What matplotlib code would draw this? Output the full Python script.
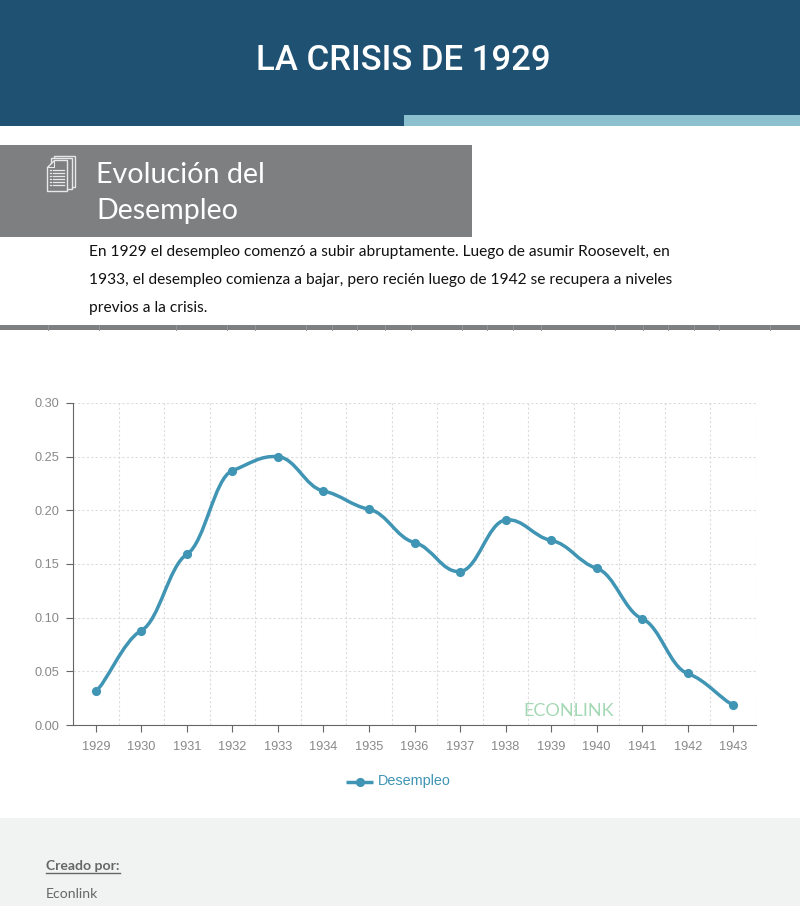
import numpy as np
import matplotlib
matplotlib.use('Agg')
import matplotlib.pyplot as plt
from matplotlib.path import Path
from matplotlib.patches import PathPatch, Rectangle, Polygon

years = ['1929', '1930', '1931', '1932', '1933', '1934', '1935', '1936',
         '1937', '1938', '1939', '1940', '1941', '1942', '1943']
desempleo = [0.032, 0.088, 0.159, 0.237, 0.250, 0.218, 0.201, 0.170,
             0.143, 0.191, 0.172, 0.146, 0.099, 0.048, 0.019]
y_ticks = [0.00, 0.05, 0.10, 0.15, 0.20, 0.25, 0.30]
body_lines = ['En 1929 el desempleo comenzó a subir abruptamente. Luego de asumir Roosevelt, en',
              '1933, el desempleo comienza a bajar, pero recién luego de 1942 se recupera a niveles',
              'previos a la crisis.']
band_marks = [48, 99, 176, 227, 255, 306, 332, 357, 385, 411, 462, 487, 513, 541,
              615, 643, 668, 694, 719, 770]

W, H = 800, 906
BLUE = '#4095b4'
GRAY = '#7e7f81'
fig = plt.figure(figsize=(W / 100, H / 100), dpi=100, facecolor='white')

# page layer, in pixels with the origin top left
page = fig.add_axes([0, 0, 1, 1])
page.set_xlim(0, W)
page.set_ylim(H, 0)
page.axis('off')

page.add_patch(Rectangle((0, 0), W, 126, fc='#1f5173', ec='none'))
page.add_patch(Rectangle((404, 115), 396, 11, fc='#8cc0cf', ec='none'))
page.add_patch(Rectangle((0, 145), 472, 92, fc=GRAY, ec='none'))
page.add_patch(Rectangle((0, 325), W, 5, fc=GRAY, ec='none'))
page.add_patch(Rectangle((0, 818), W, 88, fc='#f1f3f3', ec='none'))
for bx in band_marks:
    page.plot([bx, bx], [325, 330], color='#94959a', lw=0.7)

page.text(403, 60, 'LA CRISIS DE 1929', color='white', fontsize=25, family='Roboto',
          weight='medium', ha='center', va='center')
page.text(96, 175, 'Evolución del', color='white', fontsize=20.6, family='Lato', va='center')
page.text(96, 211, 'Desempleo', color='white', fontsize=20.6, family='Lato', va='center')

# document icon
for dx, dy in [(7, -4), (4, -2)]:
    page.add_patch(Rectangle((47 + dx, 160 + dy), 21, 31, fc=GRAY, ec='#e8e8e8', lw=1))
page.add_patch(Polygon([(54, 160), (67, 160), (67, 191), (47, 191), (47, 167)], closed=True,
                       fc=GRAY, ec='#e8e8e8', lw=1))
page.plot([47, 54, 54], [167, 167, 160], color='#e8e8e8', lw=0.8)
for ly in [170, 173, 176, 179, 182, 185]:
    page.plot([53, 64], [ly, ly], color='#e8e8e8', lw=0.9)
    page.plot([49.5, 51], [ly, ly], color='#e8e8e8', lw=0.9)

for i, line in enumerate(body_lines):
    page.text(89, 252 + i * 28, line, color='#111111', fontsize=11.15, family='Lato', va='center')

page.text(46, 866, 'Creado por:', color='#666666', fontsize=10.1, family='Lato',
          weight='bold', va='center')
page.plot([46, 120], [873, 873], color='#666666', lw=1)
page.text(46, 894, 'Econlink', color='#666666', fontsize=10.1, family='Lato', va='center')

# chart
ax = fig.add_axes([73 / W, 1 - 725 / H, (756 - 73) / W, (725 - 403) / H])
ax.set_facecolor('none')
x = np.arange(len(years))
ax.set_xlim(-0.5, len(years) - 0.5)
ax.set_ylim(0, 0.30)

ax.set_xticks(x)
ax.set_xticklabels(years)
ax.set_xticks(np.arange(len(years) + 1) - 0.5, minor=True)
ax.set_yticks(y_ticks)
ax.set_yticklabels(['%.2f' % t for t in y_ticks])
ax.tick_params(axis='both', which='major', colors='#666666', labelcolor='#888888',
               labelsize=9.2, length=5, width=0.8, pad=5)
ax.tick_params(axis='x', which='major', pad=6.5)
ax.tick_params(axis='x', which='minor', length=0)
for label in ax.get_xticklabels() + ax.get_yticklabels():
    label.set_family('Liberation Sans')
ax.grid(True, which='minor', axis='x', color='#dcdcdc', lw=0.8, ls=(0, (2, 2)))
ax.grid(True, which='major', axis='y', color='#dcdcdc', lw=0.8, ls=(0, (2, 2)))
ax.set_axisbelow(True)
for s in ['top', 'right']:
    ax.spines[s].set_visible(False)
for s in ['left', 'bottom']:
    ax.spines[s].set_color('#666666')
    ax.spines[s].set_linewidth(0.8)

# spline through the points, long handles in x and short ones in y
kx, ky = 0.2, 0.07
k = np.array([kx, ky])
pts = np.column_stack([x, desempleo])
verts = [pts[0]]
codes = [Path.MOVETO]
for i in range(len(pts) - 1):
    prev_p = pts[max(i - 1, 0)]
    next_p = pts[min(i + 2, len(pts) - 1)]
    verts += [pts[i] + k * (pts[i + 1] - prev_p), pts[i + 1] - k * (next_p - pts[i]), pts[i + 1]]
    codes += [Path.CURVE4] * 3
ax.add_patch(PathPatch(Path(verts, codes), fc='none', ec=BLUE, lw=2.5, clip_on=False))
ax.plot(x, desempleo, 'o', color=BLUE, ms=6.6, mec='none', clip_on=False)

page.text(569, 711, 'ECONLINK', color='#a5d8b4', fontsize=13, family='Lato',
          ha='center', va='center', zorder=5)

# legend, drawn by hand to sit where the original does
page.plot([345.5, 373], [782, 782], color=BLUE, lw=2.5, solid_capstyle='butt')
page.plot([360], [782], 'o', color=BLUE, ms=6.6, mec='none')
page.text(378, 781, 'Desempleo', color=BLUE, fontsize=10.4, family='Liberation Sans', va='center')

page.set_zorder(2)
page.patch.set_visible(False)
fig.savefig('out.png', dpi=100)
